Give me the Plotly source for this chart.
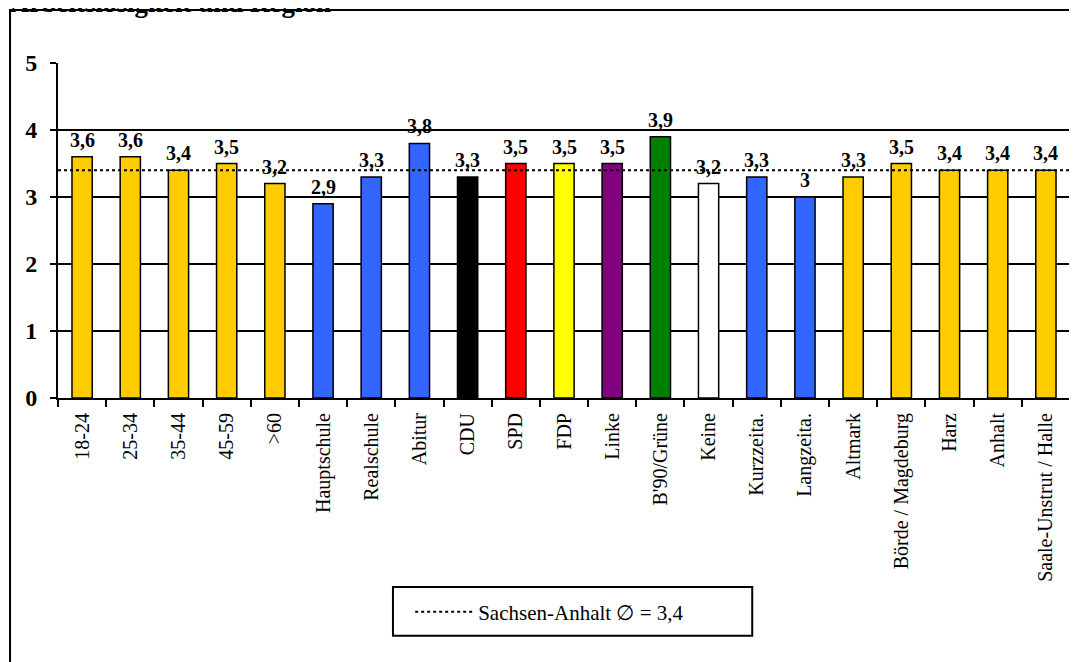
import plotly.graph_objects as go

categories = [
    "18-24", "25-34", "35-44", "45-59", ">60",
    "Hauptschule", "Realschule", "Abitur",
    "CDU", "SPD", "FDP", "Linke", "B'90/Grüne", "Keine",
    "Kurzzeita.", "Langzeita.",
    "Altmark", "Börde / Magdeburg", "Harz", "Anhalt", "Saale-Unstrut / Halle",
]
values = [3.6, 3.6, 3.4, 3.5, 3.2, 2.9, 3.3, 3.8, 3.3, 3.5, 3.5, 3.5, 3.9, 3.2,
          3.3, 3.0, 3.3, 3.5, 3.4, 3.4, 3.4]
bar_colors = [
    "#FFCC00", "#FFCC00", "#FFCC00", "#FFCC00", "#FFCC00",
    "#3366FF", "#3366FF", "#3366FF",
    "#000000", "#FF0000", "#FFFF00", "#800080", "#008000", "#FFFFFF",
    "#3366FF", "#3366FF",
    "#FFCC00", "#FFCC00", "#FFCC00", "#FFCC00", "#FFCC00",
]
average = 3.4
average_name = "Sachsen-Anhalt ∅ = 3,4"
title = "Arbeitslosigkeit und Region"


def fmt(v: float) -> str:
    return f"{v:g}".replace(".", ",")


FONT = "Liberation Serif, Times New Roman, serif"

fig = go.Figure()
fig.add_trace(
    go.Bar(
        x=categories,
        y=values,
        width=0.42,
        marker={"color": bar_colors, "line": {"color": "#000000", "width": 1.5}},
        showlegend=False,
        hovertemplate="%{x}: %{y}<extra></extra>",
    )
)
fig.add_hline(
    y=average,
    line={"color": "#000000", "width": 2, "dash": "dot"},
    layer="above",
    showlegend=True,
    name=average_name,
)

# value labels above the bars
for cat, val in zip(categories, values):
    fig.add_annotation(
        x=cat, y=val, xref="x", yref="y",
        text=f"<b>{fmt(val)}</b>",
        showarrow=False, yanchor="bottom", yshift=4,
        font={"family": FONT, "size": 20, "color": "#000000"},
    )

# frame around the whole chart and the legend box
fig.add_shape(type="rect", xref="paper", yref="paper",
              x0=-0.0474, x1=1.03, y0=-0.95, y1=1.158,
              line={"color": "#000000", "width": 2}, fillcolor="rgba(0,0,0,0)", layer="below")
fig.add_shape(type="rect", xref="paper", yref="paper",
              x0=0.331, x1=0.686, y0=-0.564, y1=-0.710,
              line={"color": "#000000", "width": 2}, fillcolor="rgba(0,0,0,0)")

fig.add_annotation(
    text=f"<b>{title}</b>", xref="paper", yref="paper",
    x=-0.0474, y=1.158, xanchor="left", yanchor="bottom",
    showarrow=False, yshift=-10, xshift=-2,
    font={"family": FONT, "size": 27, "color": "#000000"},
)

fig.update_layout(
    width=1069,
    height=654,
    plot_bgcolor="#FFFFFF",
    paper_bgcolor="#FFFFFF",
    margin={"l": 50, "r": 7, "t": 55, "b": 264},
    font={"family": FONT, "color": "#000000"},
    showlegend=True,
    legend={
        "x": 0.348, "y": -0.639, "xanchor": "left", "yanchor": "middle",
        "bgcolor": "rgba(0,0,0,0)", "borderwidth": 0,
        "itemwidth": 58,
        "font": {"family": FONT, "size": 21, "color": "#000000"},
    },
)
fig.update_xaxes(
    type="category",
    tickangle=-90,
    tickson="boundaries",
    ticks="outside",
    ticklen=7,
    tickwidth=2,
    tickcolor="#000000",
    ticklabelstandoff=5,
    showline=True,
    linecolor="#000000",
    linewidth=2,
    showgrid=False,
    tickfont={"family": FONT, "size": 20, "color": "#000000"},
)
fig.update_yaxes(
    range=[0, 5],
    dtick=1,
    ticks="outside",
    ticklen=6,
    tickwidth=2,
    tickcolor="#000000",
    ticklabelstandoff=8,
    showline=True,
    linecolor="#000000",
    linewidth=2,
    showgrid=True,
    gridcolor="#000000",
    gridwidth=2,
    zeroline=False,
    tickfont={"family": FONT, "size": 24, "color": "#000000", "weight": "bold"},
)

fig.write_html("out.html")
